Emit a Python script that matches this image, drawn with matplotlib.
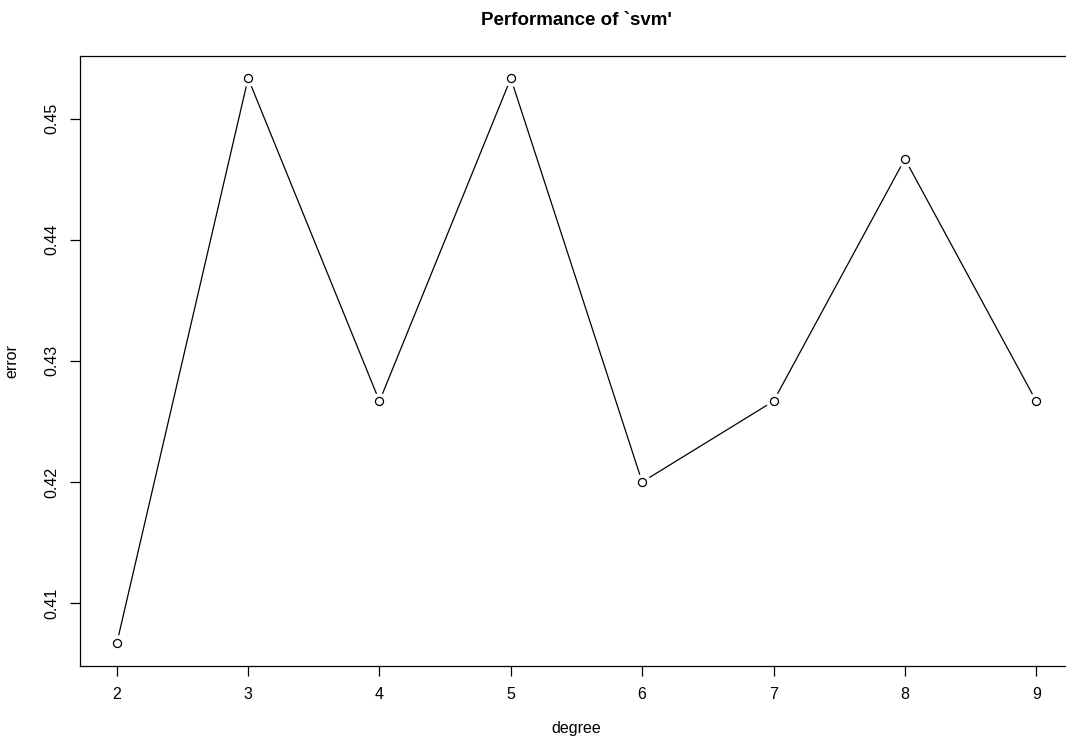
import matplotlib
matplotlib.use("Agg")
import matplotlib.pyplot as plt

# tuning results: degree vs cross-validation error
degree = [2, 3, 4, 5, 6, 7, 8, 9]
error = [0.40667, 0.45333, 0.42667, 0.45333, 0.42000, 0.42667, 0.44667, 0.42667]
y_ticks = [0.41, 0.42, 0.43, 0.44, 0.45]

plt.rcParams["font.family"] = ["Liberation Sans", "DejaVu Sans"]

fig = plt.figure(figsize=(10.66, 7.44), dpi=100)
# the plot box runs slightly past the right edge of the picture in the original
ax = fig.add_axes([80 / 1066, (744 - 666) / 744, (1073 - 80) / 1066, (666 - 55.7) / 744])

# line with gaps around points, like R's type="b"
ax.plot(degree, error, color="black", lw=0.9, zorder=1)
ax.plot(degree, error, ls="none", marker="o", ms=11, mfc="white", mec="white", zorder=2)
ax.plot(degree, error, ls="none", marker="o", ms=5.8, mfc="white", mec="black", mew=0.9, zorder=3)

# R style 4% axis padding
xr = max(degree) - min(degree)
yr = max(error) - min(error)
ax.set_xlim(min(degree) - 0.04 * xr, max(degree) + 0.04 * xr)
ax.set_ylim(min(error) - 0.04 * yr, max(error) + 0.04 * yr)

ax.set_xticks(degree)
ax.set_xticklabels([str(d) for d in degree])
ax.set_yticks(y_ticks)
ax.set_yticklabels([f"{t:.2f}" for t in y_ticks], rotation=90, va="center")
ax.tick_params(axis="both", direction="out", length=7, width=0.9, labelsize=11.5, pad=8)

for s in ax.spines.values():
    s.set_linewidth(0.9)

ax.set_xlabel("degree", fontsize=11.5, labelpad=14)
ax.set_ylabel("error", fontsize=11.5, labelpad=18)
ax.set_title("Performance of `svm'", fontsize=13.5, fontweight="bold", pad=22)

fig.savefig("out.png", dpi=100)
